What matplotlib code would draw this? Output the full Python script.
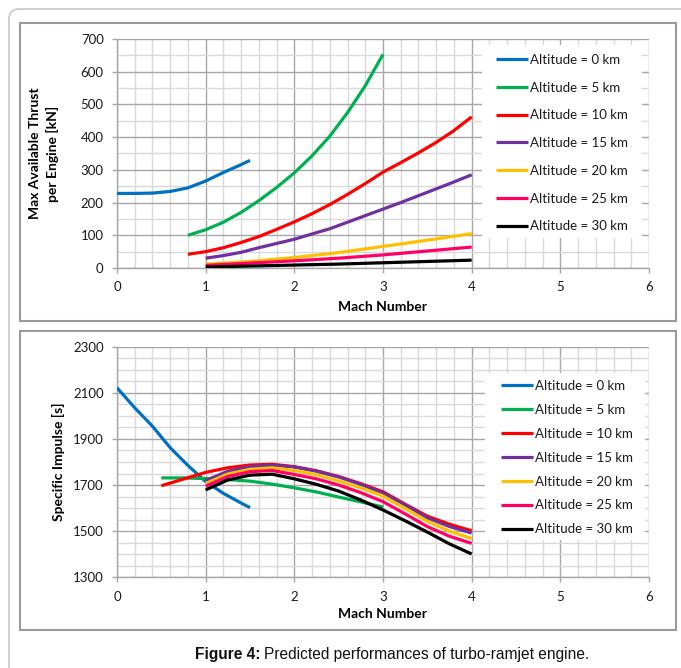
import numpy as np
import matplotlib
matplotlib.use("Agg")
import matplotlib.pyplot as plt
from matplotlib.patches import Rectangle, FancyBboxPatch
from matplotlib.ticker import MultipleLocator, FixedLocator

plt.rcParams["font.family"] = ["Lato", "DejaVu Sans"]

labels = ["Altitude = 0 km", "Altitude = 5 km", "Altitude = 10 km",
          "Altitude = 15 km", "Altitude = 20 km", "Altitude = 25 km",
          "Altitude = 30 km"]
colors = ["#0070C0", "#00B050", "#FF0000", "#7030A0", "#FFC000", "#FF0066", "#000000"]

# --- top chart: max available thrust per engine [kN] vs Mach number
thrust_mach = [
    [0.0, 0.2, 0.4, 0.6, 0.8, 1.0, 1.2, 1.4, 1.5],
    [0.8, 1.0, 1.2, 1.4, 1.6, 1.8, 2.0, 2.2, 2.4, 2.6, 2.8, 3.0],
    [0.8, 1.0, 1.2, 1.4, 1.6, 1.8, 2.0, 2.2, 2.4, 2.6, 2.8, 3.0, 3.2, 3.4, 3.6, 3.8, 4.0],
    [1.0, 1.2, 1.4, 1.6, 1.8, 2.0, 2.2, 2.4, 2.6, 2.8, 3.0, 3.2, 3.4, 3.6, 3.8, 4.0],
    [1.0, 1.5, 2.0, 2.5, 3.0, 3.5, 4.0],
    [1.0, 1.5, 2.0, 2.5, 3.0, 3.5, 4.0],
    [1.0, 1.5, 2.0, 2.5, 3.0, 3.5, 4.0],
]
thrust_kn = [
    [228, 228, 229, 234, 245, 266, 292, 316, 329],
    [100, 117, 140, 170, 206, 246, 291, 343, 403, 475, 557, 653],
    [42, 50, 62, 78, 96, 118, 141, 166, 194, 225, 258, 293, 322, 352, 384, 420, 462],
    [30, 38, 48, 62, 75, 88, 104, 120, 140, 160, 180, 200, 221, 242, 263, 285],
    [12, 20, 32, 47, 66, 85, 105],
    [8, 15, 22, 30, 40, 52, 64],
    [3, 6, 9, 12, 16, 20, 24],
]

# --- bottom chart: specific impulse [s] vs Mach number
isp_mach = [
    [0.0, 0.2, 0.4, 0.6, 0.8, 1.0, 1.2, 1.4, 1.5],
    [0.5, 0.75, 1.0, 1.25, 1.5, 1.75, 2.0, 2.25, 2.5, 2.75, 3.0],
    [0.5, 0.75, 1.0, 1.25, 1.5, 1.75, 2.0, 2.25, 2.5, 2.75, 3.0, 3.25, 3.5, 3.75, 4.0],
    [1.0, 1.25, 1.5, 1.75, 2.0, 2.25, 2.5, 2.75, 3.0, 3.25, 3.5, 3.75, 4.0],
    [1.0, 1.25, 1.5, 1.75, 2.0, 2.25, 2.5, 2.75, 3.0, 3.25, 3.5, 3.75, 4.0],
    [1.0, 1.25, 1.5, 1.75, 2.0, 2.25, 2.5, 2.75, 3.0, 3.25, 3.5, 3.75, 4.0],
    [1.0, 1.25, 1.5, 1.75, 2.0, 2.25, 2.5, 2.75, 3.0, 3.25, 3.5, 3.75, 4.0],
]
isp_s = [
    [2122, 2035, 1955, 1862, 1785, 1715, 1664, 1622, 1602],
    [1731, 1731, 1728, 1724, 1717, 1704, 1688, 1670, 1648, 1627, 1605],
    [1697, 1726, 1755, 1775, 1787, 1790, 1780, 1762, 1737, 1706, 1671, 1617, 1565, 1530, 1502],
    [1720, 1760, 1780, 1786, 1778, 1760, 1735, 1703, 1666, 1614, 1558, 1520, 1492],
    [1707, 1748, 1768, 1775, 1763, 1745, 1718, 1688, 1652, 1598, 1543, 1500, 1468],
    [1695, 1737, 1758, 1763, 1746, 1727, 1700, 1667, 1628, 1575, 1520, 1478, 1447],
    [1679, 1722, 1743, 1747, 1727, 1703, 1674, 1635, 1592, 1545, 1496, 1445, 1401],
]

thrust_ticks = [0, 100, 200, 300, 400, 500, 600, 700]
isp_ticks = [1300, 1500, 1700, 1900, 2100, 2300]

W, H = 681, 668
fig = plt.figure(figsize=(W / 100, H / 100), dpi=100)


def px_rect(x0, y0, x1, y1):
    """pixel box (top-left origin) -> figure fraction [l, b, w, h]"""
    return [x0 / W, 1 - y1 / H, (x1 - x0) / W, (y1 - y0) / H]


# outer rounded frame and the two panel frames
outer = FancyBboxPatch((9 / W, -0.05), 1.2, 1 - 9 / H + 0.05,
                       boxstyle="round,pad=0,rounding_size=0.015",
                       transform=fig.transFigure, fill=False,
                       edgecolor="#C8C8C8", linewidth=1.2)
fig.patches.append(outer)
for box in [(20, 23, 676, 321), (20, 331, 676, 630)]:
    l, b, w, h = px_rect(*box)
    fig.patches.append(Rectangle((l, b), w, h, transform=fig.transFigure,
                                 fill=False, edgecolor="#9A9A9A", linewidth=1.5))


def style_axes(ax, yticks, ylabel, ylabel_x, xlabel_y, legend_box, legend_top,
               label_gap):
    ax.set_xlim(0, 6)
    ax.set_ylim(yticks[0], yticks[-1])
    ax.xaxis.set_major_locator(MultipleLocator(1))
    ax.xaxis.set_minor_locator(MultipleLocator(0.2))
    ax.yaxis.set_major_locator(FixedLocator(yticks))
    ax.yaxis.set_minor_locator(MultipleLocator(50))
    ax.set_axisbelow(True)
    ax.grid(which="minor", color="#D9D9D9", linewidth=1.0)
    ax.grid(which="major", color="#A6A6A6", linewidth=1.0)
    for side in ["top", "right"]:
        ax.spines[side].set_visible(False)
    for side in ["left", "bottom"]:
        ax.spines[side].set_color("#A6A6A6")
        ax.spines[side].set_linewidth(1.0)
    ax.tick_params(which="major", direction="out", length=3.6, width=1.0,
                   color="#A6A6A6", labelsize=9.5, labelcolor="#1A1A1A", pad=6)
    ax.tick_params(which="minor", length=0)
    ax.set_ylabel(ylabel, fontsize=10, fontweight="bold", linespacing=1.4)
    ax.yaxis.set_label_coords(ylabel_x, 0.5)
    ax.yaxis.label.set_va("center")
    ax.set_xlabel("Mach Number", fontsize=10, fontweight="bold")
    ax.xaxis.set_label_coords(0.5, xlabel_y)
    ax.xaxis.label.set_va("center")
    # white legend area covering the grid
    x0, y0, x1, y1 = legend_box
    ax.add_patch(Rectangle((x0, y0), x1 - x0, y1 - y0, transform=ax.transAxes,
                           facecolor="white", edgecolor="none", zorder=1))
    leg = ax.legend(loc="upper left", bbox_to_anchor=legend_top, frameon=False,
                    fontsize=9.5, handlelength=2.4, handletextpad=0.2,
                    labelspacing=label_gap, borderpad=0, borderaxespad=0)
    for t in leg.get_texts():
        t.set_color("#1A1A1A")
    leg.set_zorder(5)


ax1 = fig.add_axes(px_rect(117, 39, 649, 268))
for xs, ys, c, lab in zip(thrust_mach, thrust_kn, colors, labels):
    ax1.plot(xs, ys, color=c, linewidth=2.3, label=lab, zorder=3,
             solid_capstyle="butt")
style_axes(ax1, thrust_ticks, "Max Available Thrust\nper Engine [kN]",
           (44 - 117) / 532, (268 - 307) / 229,
           ((482 - 117) / 532, (268 - 238) / 229, (642 - 117) / 532, (268 - 45) / 229),
           ((496 - 117) / 532, (268 - 54) / 229), 1.19)

ax2 = fig.add_axes(px_rect(117, 346.7, 649, 577.3))
for xs, ys, c, lab in zip(isp_mach, isp_s, colors, labels):
    ax2.plot(xs, ys, color=c, linewidth=2.3, label=lab, zorder=3,
             solid_capstyle="butt")
style_axes(ax2, isp_ticks, "Specific Impulse [s]",
           (58 - 117) / 532, (577.3 - 614) / 230.6,
           ((485 - 117) / 532, (577.3 - 540) / 230.6, (645 - 117) / 532, (577.3 - 373) / 230.6),
           ((501 - 117) / 532, (577.3 - 380) / 230.6), 0.9)

# caption: bold "Figure 4:" followed by regular text
cap_y = 1 - 654 / H
t1 = fig.text(195 / W, cap_y, "Figure 4:", fontsize=11.2, fontweight="bold",
              family="Liberation Sans", va="center", ha="left", color="#111111")
fig.canvas.draw()
bb = t1.get_window_extent(renderer=fig.canvas.get_renderer())
fig.text(bb.x1 / W + 4 / W, cap_y, "Predicted performances of turbo-ramjet engine.",
         fontsize=11.2, family="Liberation Sans", va="center", ha="left", color="#111111")

fig.savefig("out.png", dpi=100)
